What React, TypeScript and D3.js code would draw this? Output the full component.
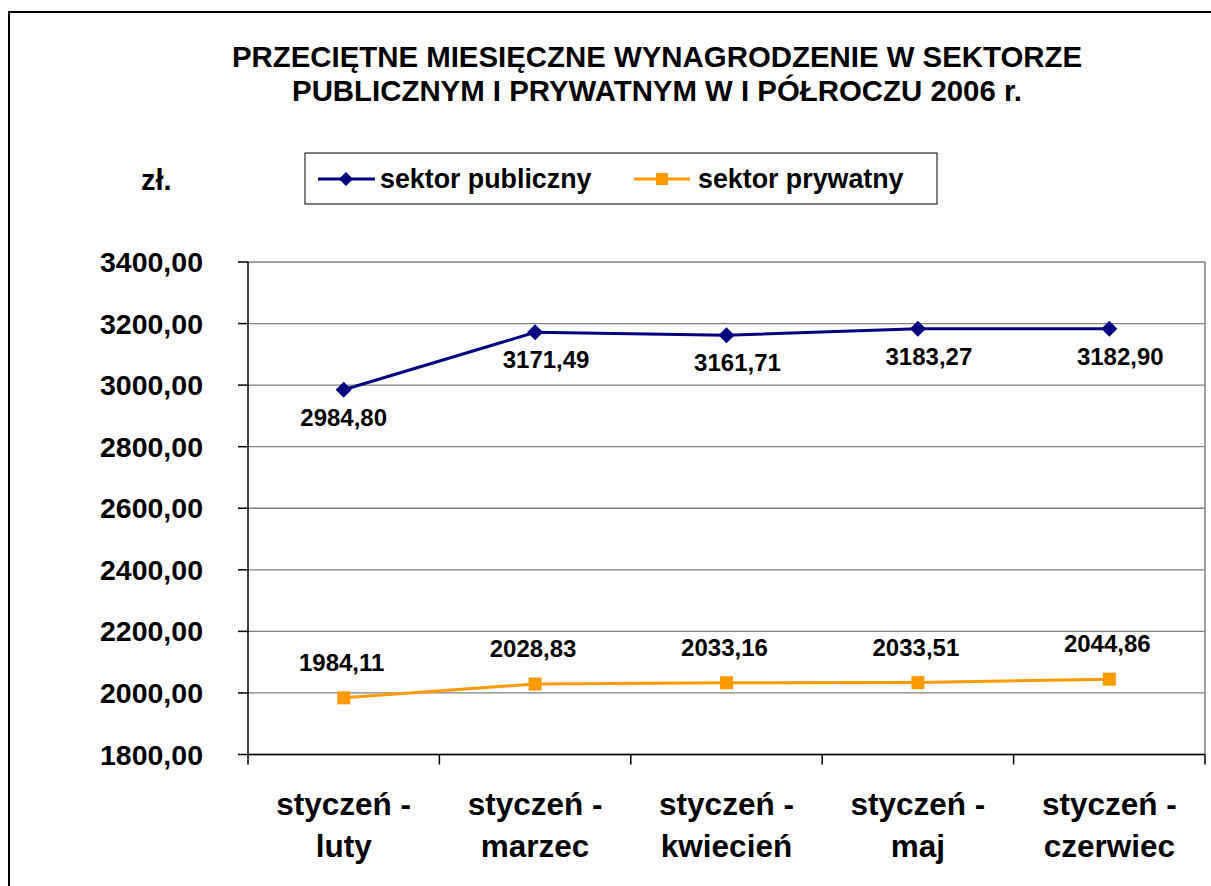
import React from "react";
import * as d3 from "d3";

const categories: string[][] = [
  ["styczeń -", "luty"],
  ["styczeń -", "marzec"],
  ["styczeń -", "kwiecień"],
  ["styczeń -", "maj"],
  ["styczeń -", "czerwiec"],
];
const publiczny: number[] = [2984.8, 3171.49, 3161.71, 3183.27, 3182.9];
const prywatny: number[] = [1984.11, 2028.83, 2033.16, 2033.51, 2044.86];
const yTicks: number[] = [1800, 2000, 2200, 2400, 2600, 2800, 3000, 3200, 3400];
const titleLines: string[] = [
  "PRZECIĘTNE MIESIĘCZNE WYNAGRODZENIE W SEKTORZE",
  "PUBLICZNYM I PRYWATNYM W I PÓŁROCZU 2006 r.",
];
const seriesNames: string[] = ["sektor publiczny", "sektor prywatny"];

const W = 1211;
const H = 886;
const FONT = "'Liberation Sans', Arial, Helvetica, sans-serif";
const NAVY = "#000080";
const ORANGE = "#FF9900";

const fmt = (v: number) => v.toFixed(2).replace(".", ",");

export default function App() {
  const left = 248;
  const right = 1205;
  const top = 262;
  const bottom = 754.5;

  const x = d3
    .scaleBand<number>()
    .domain(categories.map((_, i) => i))
    .range([left, right])
    .paddingInner(0)
    .paddingOuter(0);
  const cx = (i: number) => (x(i) as number) + x.bandwidth() / 2;
  const y = d3.scaleLinear().domain([1800, 3400]).range([bottom, top]);

  const line = d3
    .line<number>()
    .x((_, i) => cx(i))
    .y((d) => y(d));

  const diamond = (px: number, py: number, r: number) =>
    `M${px},${py - r}L${px + r},${py}L${px},${py + r}L${px - r},${py}Z`;

  const boundaries = d3.range(categories.length + 1).map((i) =>
    i < categories.length ? (x(i) as number) : right
  );

  return (
    <svg
      width={W}
      height={H}
      style={{ position: "absolute", left: 0, top: 0, background: "#fff" }}
      fontFamily={FONT}
    >
      <rect x={0} y={0} width={W} height={H} fill="#fff" />
      {/* outer frame */}
      <rect x={9} y={12} width={1240} height={920} fill="none" stroke="#000" strokeWidth={2} />

      {/* title */}
      {titleLines.map((t, i) => (
        <text
          key={i}
          x={657}
          y={67 + i * 34}
          textAnchor="middle"
          fontSize={29.4}
          fontWeight="bold"
          fill="#000"
        >
          {t}
        </text>
      ))}

      {/* unit */}
      <text x={141} y={190} fontSize={29} fontWeight="bold">
        zł.
      </text>

      {/* legend */}
      <rect x={305} y={153} width={632} height={51} fill="#fff" stroke="#000" strokeWidth={1} />
      <line x1={318} x2={375} y1={179} y2={179} stroke={NAVY} strokeWidth={3} />
      <path d={diamond(346, 179, 7)} fill={NAVY} />
      <text x={380} y={188} fontSize={26.8} fontWeight="bold">
        {seriesNames[0]}
      </text>
      <line x1={634} x2={690} y1={179} y2={179} stroke={ORANGE} strokeWidth={3} />
      <rect x={656} y={173} width={12} height={12} fill={ORANGE} />
      <text x={698} y={188} fontSize={26.8} fontWeight="bold">
        {seriesNames[1]}
      </text>

      {/* gridlines */}
      {yTicks.map((t) => (
        <line
          key={t}
          x1={left}
          x2={right}
          y1={y(t)}
          y2={y(t)}
          stroke="#808080"
          strokeWidth={1.3}
        />
      ))}
      {/* plot border right */}
      <line x1={right} x2={right} y1={top} y2={bottom} stroke="#808080" strokeWidth={1.5} />

      {/* axes */}
      <line x1={left} x2={left} y1={top} y2={bottom} stroke="#000" strokeWidth={1.5} />
      <line x1={left} x2={right} y1={bottom} y2={bottom} stroke="#000" strokeWidth={1.5} />
      {yTicks.map((t) => (
        <g key={"yt" + t}>
          <line x1={left - 10} x2={left} y1={y(t)} y2={y(t)} stroke="#000" strokeWidth={1.5} />
          <text
            x={203}
            y={y(t) + 10}
            textAnchor="end"
            fontSize={28.5}
            fontWeight="bold"
          >
            {fmt(t)}
          </text>
        </g>
      ))}
      {boundaries.map((b, i) => (
        <line key={"xt" + i} x1={b} x2={b} y1={bottom} y2={bottom + 10} stroke="#000" strokeWidth={1.5} />
      ))}
      {categories.map((c, i) => (
        <text key={"c" + i} textAnchor="middle" fontSize={31.5} fontWeight="bold">
          {c.map((l, j) => (
            <tspan key={j} x={cx(i)} y={815 + j * 42}>
              {l}
            </tspan>
          ))}
        </text>
      ))}

      {/* series */}
      <path d={line(publiczny) || ""} fill="none" stroke={NAVY} strokeWidth={3} />
      {publiczny.map((v, i) => (
        <path key={"pm" + i} d={diamond(cx(i), y(v), 8)} fill={NAVY} />
      ))}
      <path d={line(prywatny) || ""} fill="none" stroke={ORANGE} strokeWidth={3} />
      {prywatny.map((v, i) => (
        <rect key={"rm" + i} x={cx(i) - 6.5} y={y(v) - 6.5} width={13} height={13} fill={ORANGE} />
      ))}

      {/* data labels */}
      {publiczny.map((v, i) => (
        <text
          key={"pl" + i}
          x={cx(i) + (i === 0 ? 0 : 11)}
          y={y(v) + 36}
          textAnchor="middle"
          fontSize={24}
          fontWeight="bold"
        >
          {fmt(v)}
        </text>
      ))}
      {prywatny.map((v, i) => (
        <text
          key={"rl" + i}
          x={cx(i) - 2}
          y={y(v) - 27}
          textAnchor="middle"
          fontSize={24}
          fontWeight="bold"
        >
          {fmt(v)}
        </text>
      ))}
    </svg>
  );
}
